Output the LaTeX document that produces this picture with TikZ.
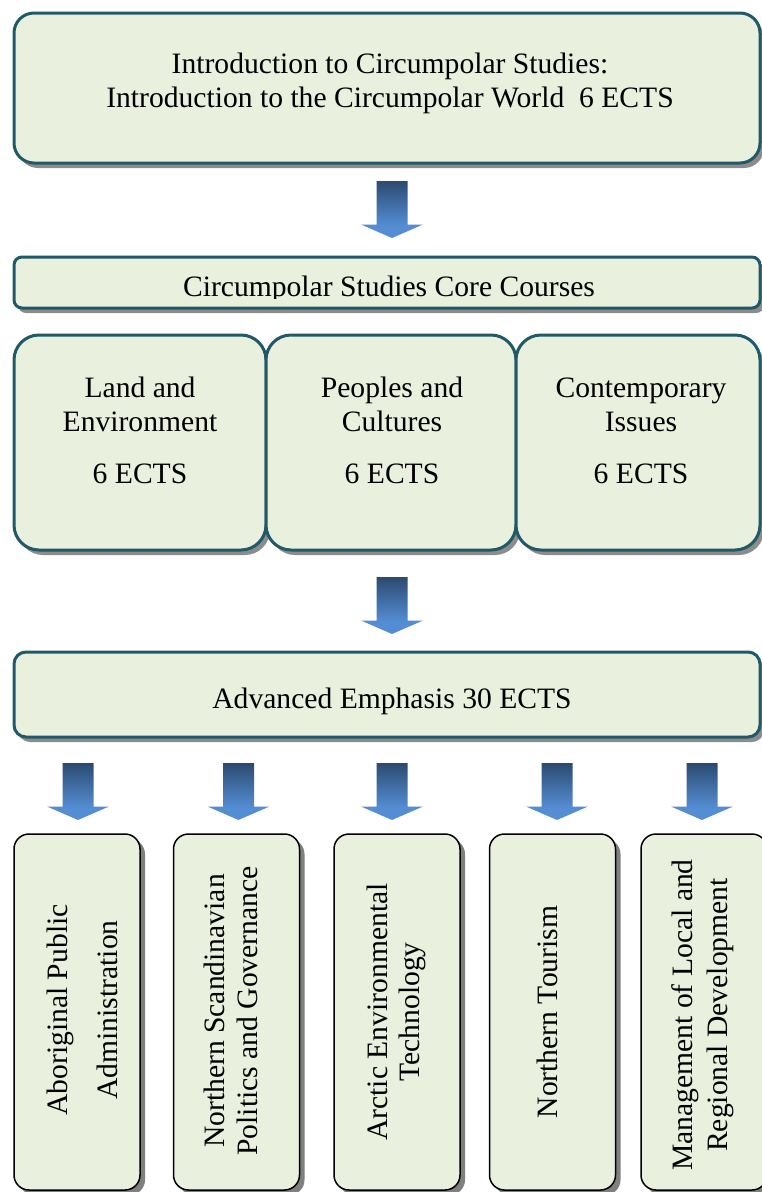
\documentclass[tikz,border=0pt]{standalone}
\usepackage{fontspec}
\setmainfont{Liberation Serif}
\usetikzlibrary{shadows}
\definecolor{boxfill}{HTML}{E9F0DD}
\definecolor{boxline}{HTML}{215968}
\definecolor{shadowgray}{HTML}{8C8C8C}
\definecolor{arrowtop}{RGB}{44,74,112}
\definecolor{arrowbot}{RGB}{84,141,212}
\pgfdeclareverticalshading{arrowshade}{100bp}{color(0bp)=(arrowbot); color(36bp)=(arrowbot); color(75bp)=(arrowtop); color(100bp)=(arrowtop)}
\tikzset{
  tealbox/.style={draw=boxline, line width=3pt, fill=boxfill, inner sep=0pt,
    drop shadow={shadow xshift=4pt, shadow yshift=-5pt, fill=shadowgray, opacity=1}},
  lowbox/.style={draw=black, line width=1.5pt, fill=boxfill, inner sep=0pt,
    rounded corners=15pt, minimum width=126pt, minimum height=356pt,
    drop shadow={shadow xshift=5pt, shadow yshift=-5pt, fill=black!50, opacity=1}},
  txt/.style={font=\fontsize{29.6}{34}\selectfont, inner sep=0pt, anchor=base},
  vtxt/.style={txt, rotate=90},
  barrow/.pic={\shade[shading=arrowshade] (-15.5,-28.5) -- (15.5,-28.5) -- (15.5,15) -- (31,15) -- (0,28.5) -- (-31,15) -- (-15.5,15) -- cycle;}
}
\begin{document}
\begin{tikzpicture}[x=1pt,y=-1pt]
\useasboundingbox (0,0) rectangle (762,1192);
\clip (0,0) rectangle (762,1192);

% top box
\node[tealbox, rounded corners=20pt, minimum width=746pt, minimum height=150pt] (intro) at (387,88) {};
\node[txt] (introA) at (390,73) {Introduction to Circumpolar Studies:};
\node[txt] (introB) at (390,107) {Introduction to the Circumpolar World~~6 ECTS};

\pic at (392,209.5) {barrow};

% core bar
\node[tealbox, rounded corners=8pt, minimum width=746pt, minimum height=51pt] (core) at (387,282.5) {};
\begin{scope}
  \clip (14,257) rectangle (760,298);
  \node[txt] (coreT) at (389,296) {Circumpolar Studies Core Courses};
\end{scope}

% three core course boxes
\node[tealbox, rounded corners=25pt, minimum width=252pt, minimum height=215pt] (land) at (140,442.5) {};
\node[tealbox, rounded corners=25pt, minimum width=250pt, minimum height=215pt] (peop) at (391,442.5) {};
\node[tealbox, rounded corners=25pt, minimum width=244pt, minimum height=215pt] (cont) at (638,442.5) {};
\node[txt] (landA) at (140,397) {Land and};
\node[txt] (landB) at (140,431) {Environment};
\node[txt] (landC) at (140,483) {6 ECTS};
\node[txt] (peopA) at (392,397) {Peoples and};
\node[txt] (peopB) at (392,431) {Cultures};
\node[txt] (peopC) at (392,483) {6 ECTS};
\node[txt] (contA) at (641,397) {Contemporary};
\node[txt] (contB) at (641,431) {Issues};
\node[txt] (contC) at (641,483) {6 ECTS};

\pic at (392,605.5) {barrow};

% advanced emphasis
\node[tealbox, rounded corners=12pt, minimum width=746pt, minimum height=85pt] (adv) at (387,694.5) {};
\node[txt] (advT) at (392,708) {Advanced Emphasis 30 ECTS};

\foreach \ax in {78,238.5,392,557,702} {\pic at (\ax,791.5) {barrow};}

% bottom boxes
\node[lowbox] (abor) at (77,1012) {};
\node[lowbox] (nsc) at (236.5,1012) {};
\node[lowbox] (arc) at (397,1012) {};
\node[lowbox] (tour) at (552.5,1012) {};
\node[lowbox] (mgmt) at (704,1012) {};

\node[vtxt] (aborA) at (67,1010) {Aboriginal Public};
\node[vtxt] (aborB) at (117,1010) {Administration};
\node[vtxt] (nscA) at (224.5,1011) {Northern Scandinavian};
\node[vtxt] (nscB) at (257,1011) {Politics and Governance};
\node[vtxt] (arcA) at (387,1012) {Arctic Environmental};
\node[vtxt] (arcB) at (419,1012) {Technology};
\node[vtxt] (tourA) at (557,1012) {Northern Tourism};
\node[vtxt] (mgmtA) at (692.5,1015) {Management of Local and};
\node[vtxt] (mgmtB) at (727,1015) {Regional Development};
\end{tikzpicture}
\end{document}
